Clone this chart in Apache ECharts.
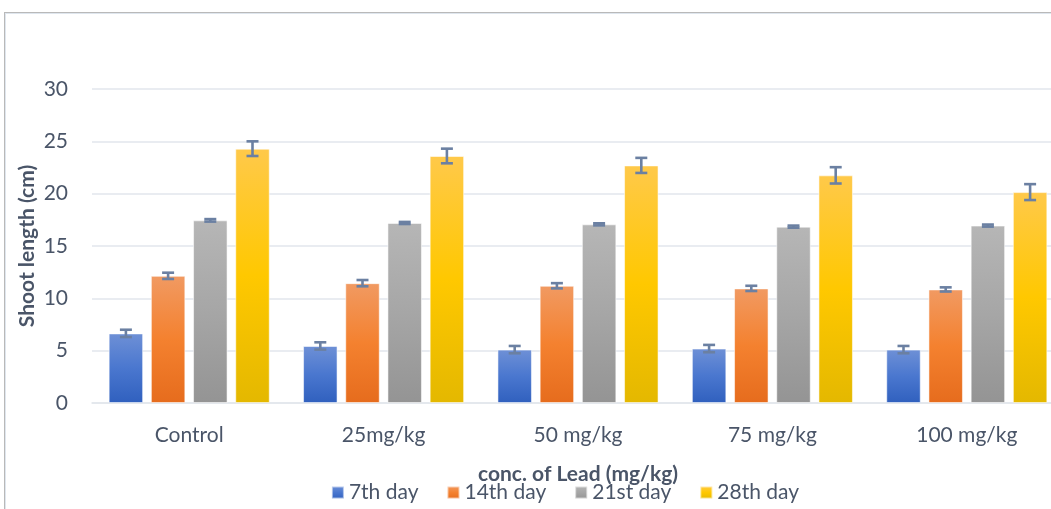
<!DOCTYPE html>
<html>
<head>
<meta charset="utf-8">
<script src="https://cdn.jsdelivr.net/npm/echarts@6/dist/echarts.min.js"></script>
<style>
html,body{margin:0;padding:0;background:#fff;overflow:hidden;width:1051px;height:509px;}
#frame{position:absolute;left:4px;top:12px;width:1200px;height:700px;border-left:1px solid #b9b9b9;border-top:1px solid #b9b9b9;box-shadow:inset 1px 1px 0 #dfe6ee;}
#chart{position:absolute;left:0;top:0;width:1130px;height:509px;}
</style>
</head>
<body>
<div id="frame"></div>
<div id="chart"></div>
<script>
const categories = ['Control', '25mg/kg', '50 mg/kg', '75 mg/kg', '100 mg/kg'];
const seriesNames = ['7th day', '14th day', '21st day', '28th day'];
const day7 = [6.65, 5.45, 5.1, 5.2, 5.1];
const day14 = [12.15, 11.45, 11.2, 10.95, 10.85];
const day21 = [17.45, 17.2, 17.07, 16.85, 16.95];
const day28 = [24.3, 23.6, 22.7, 21.75, 20.15];
const err7 = [0.35, 0.35, 0.35, 0.35, 0.35];
const err14 = [0.3, 0.3, 0.25, 0.25, 0.2];
const err21 = [0.12, 0.1, 0.1, 0.1, 0.1];
const err28 = [0.7, 0.7, 0.72, 0.78, 0.76];
const yTicks = [0, 5, 10, 15, 20, 25, 30];

const values = [day7, day14, day21, day28];
const errors = [err7, err14, err21, err28];
const gradients = [
  ['#6E90D6', '#4A77CF', '#3060BE'],
  ['#F19A62', '#F4812F', '#E66C1D'],
  ['#B6B6B6', '#A6A6A6', '#949494'],
  ['#FFC94A', '#FFC800', '#E4B800']
];
const BAR_W = 34.5;
const BAR_GAP = 7.7;
const FONT = 'Lato';
const TXT = '#4A5568';

const chart = echarts.init(document.getElementById('chart'), null, {renderer: 'canvas'});

function grad(c) {
  return new echarts.graphic.LinearGradient(0, 0, 0, 1, [
    {offset: 0, color: c[0]}, {offset: 0.5, color: c[1]}, {offset: 1, color: c[2]}
  ]);
}

const series = [];
values.forEach((v, i) => {
  series.push({
    name: seriesNames[i],
    type: 'bar',
    data: v,
    barWidth: BAR_W,
    barGap: (BAR_GAP / BAR_W * 100) + '%',
    itemStyle: {color: grad(gradients[i]), borderColor: 'rgba(255,255,255,0.55)', borderWidth: 1},
    emphasis: {disabled: true}
  });
});
values.forEach((v, i) => {
  series.push({
    type: 'custom',
    name: 'err' + i,
    z: 5,
    data: v.map((val, k) => [k, val, errors[i][k]]),
    renderItem: function (params, api) {
      const k = api.value(0);
      const m = api.value(1);
      const e = api.value(2);
      const off = (i - 1.5) * (BAR_W + BAR_GAP);
      const top = api.coord([k, m + e]);
      const bot = api.coord([k, m - e]);
      const x = top[0] + off;
      const hw = 6;
      const style = {stroke: '#6B80A2', lineWidth: 2.6, fill: null};
      return {
        type: 'group',
        children: [
          {type: 'line', shape: {x1: x, y1: top[1], x2: x, y2: bot[1]}, style: style},
          {type: 'line', shape: {x1: x - hw, y1: top[1], x2: x + hw, y2: top[1]}, style: style},
          {type: 'line', shape: {x1: x - hw, y1: bot[1], x2: x + hw, y2: bot[1]}, style: style}
        ]
      };
    }
  });
});

chart.setOption({
  animation: false,
  textStyle: {fontFamily: FONT},
  grid: {left: 92, top: 89, width: 972, height: 314, containLabel: false},
  legend: {
    data: seriesNames,
    top: 477,
    left: 'center',
    itemWidth: 12,
    itemHeight: 12,
    itemGap: 28,
    icon: 'rect',
    textStyle: {color: TXT, fontSize: 21, fontFamily: FONT}
  },
  xAxis: {
    type: 'category',
    data: categories,
    name: 'conc. of Lead (mg/kg)',
    nameLocation: 'middle',
    nameGap: 61,
    nameMoveOverlap: false,
    nameTextStyle: {color: TXT, fontSize: 21, fontWeight: 'bold', fontFamily: FONT},
    axisLine: {lineStyle: {color: '#E2E6EC', width: 1.5}},
    axisTick: {show: false},
    axisLabel: {color: TXT, fontSize: 21, margin: 22, fontFamily: FONT}
  },
  yAxis: {
    type: 'value',
    min: yTicks[0],
    max: yTicks[yTicks.length - 1],
    interval: 5,
    name: 'Shoot length (cm)',
    nameLocation: 'middle',
    nameGap: 54,
    nameMoveOverlap: false,
    nameTextStyle: {color: TXT, fontSize: 21, fontWeight: 'bold', fontFamily: FONT},
    axisLine: {show: false},
    axisTick: {show: false},
    axisLabel: {color: TXT, fontSize: 21, margin: 24, fontFamily: FONT},
    splitLine: {lineStyle: {color: '#E2E6EC', width: 1.5}}
  },
  series: series
});
</script>
</body>
</html>
